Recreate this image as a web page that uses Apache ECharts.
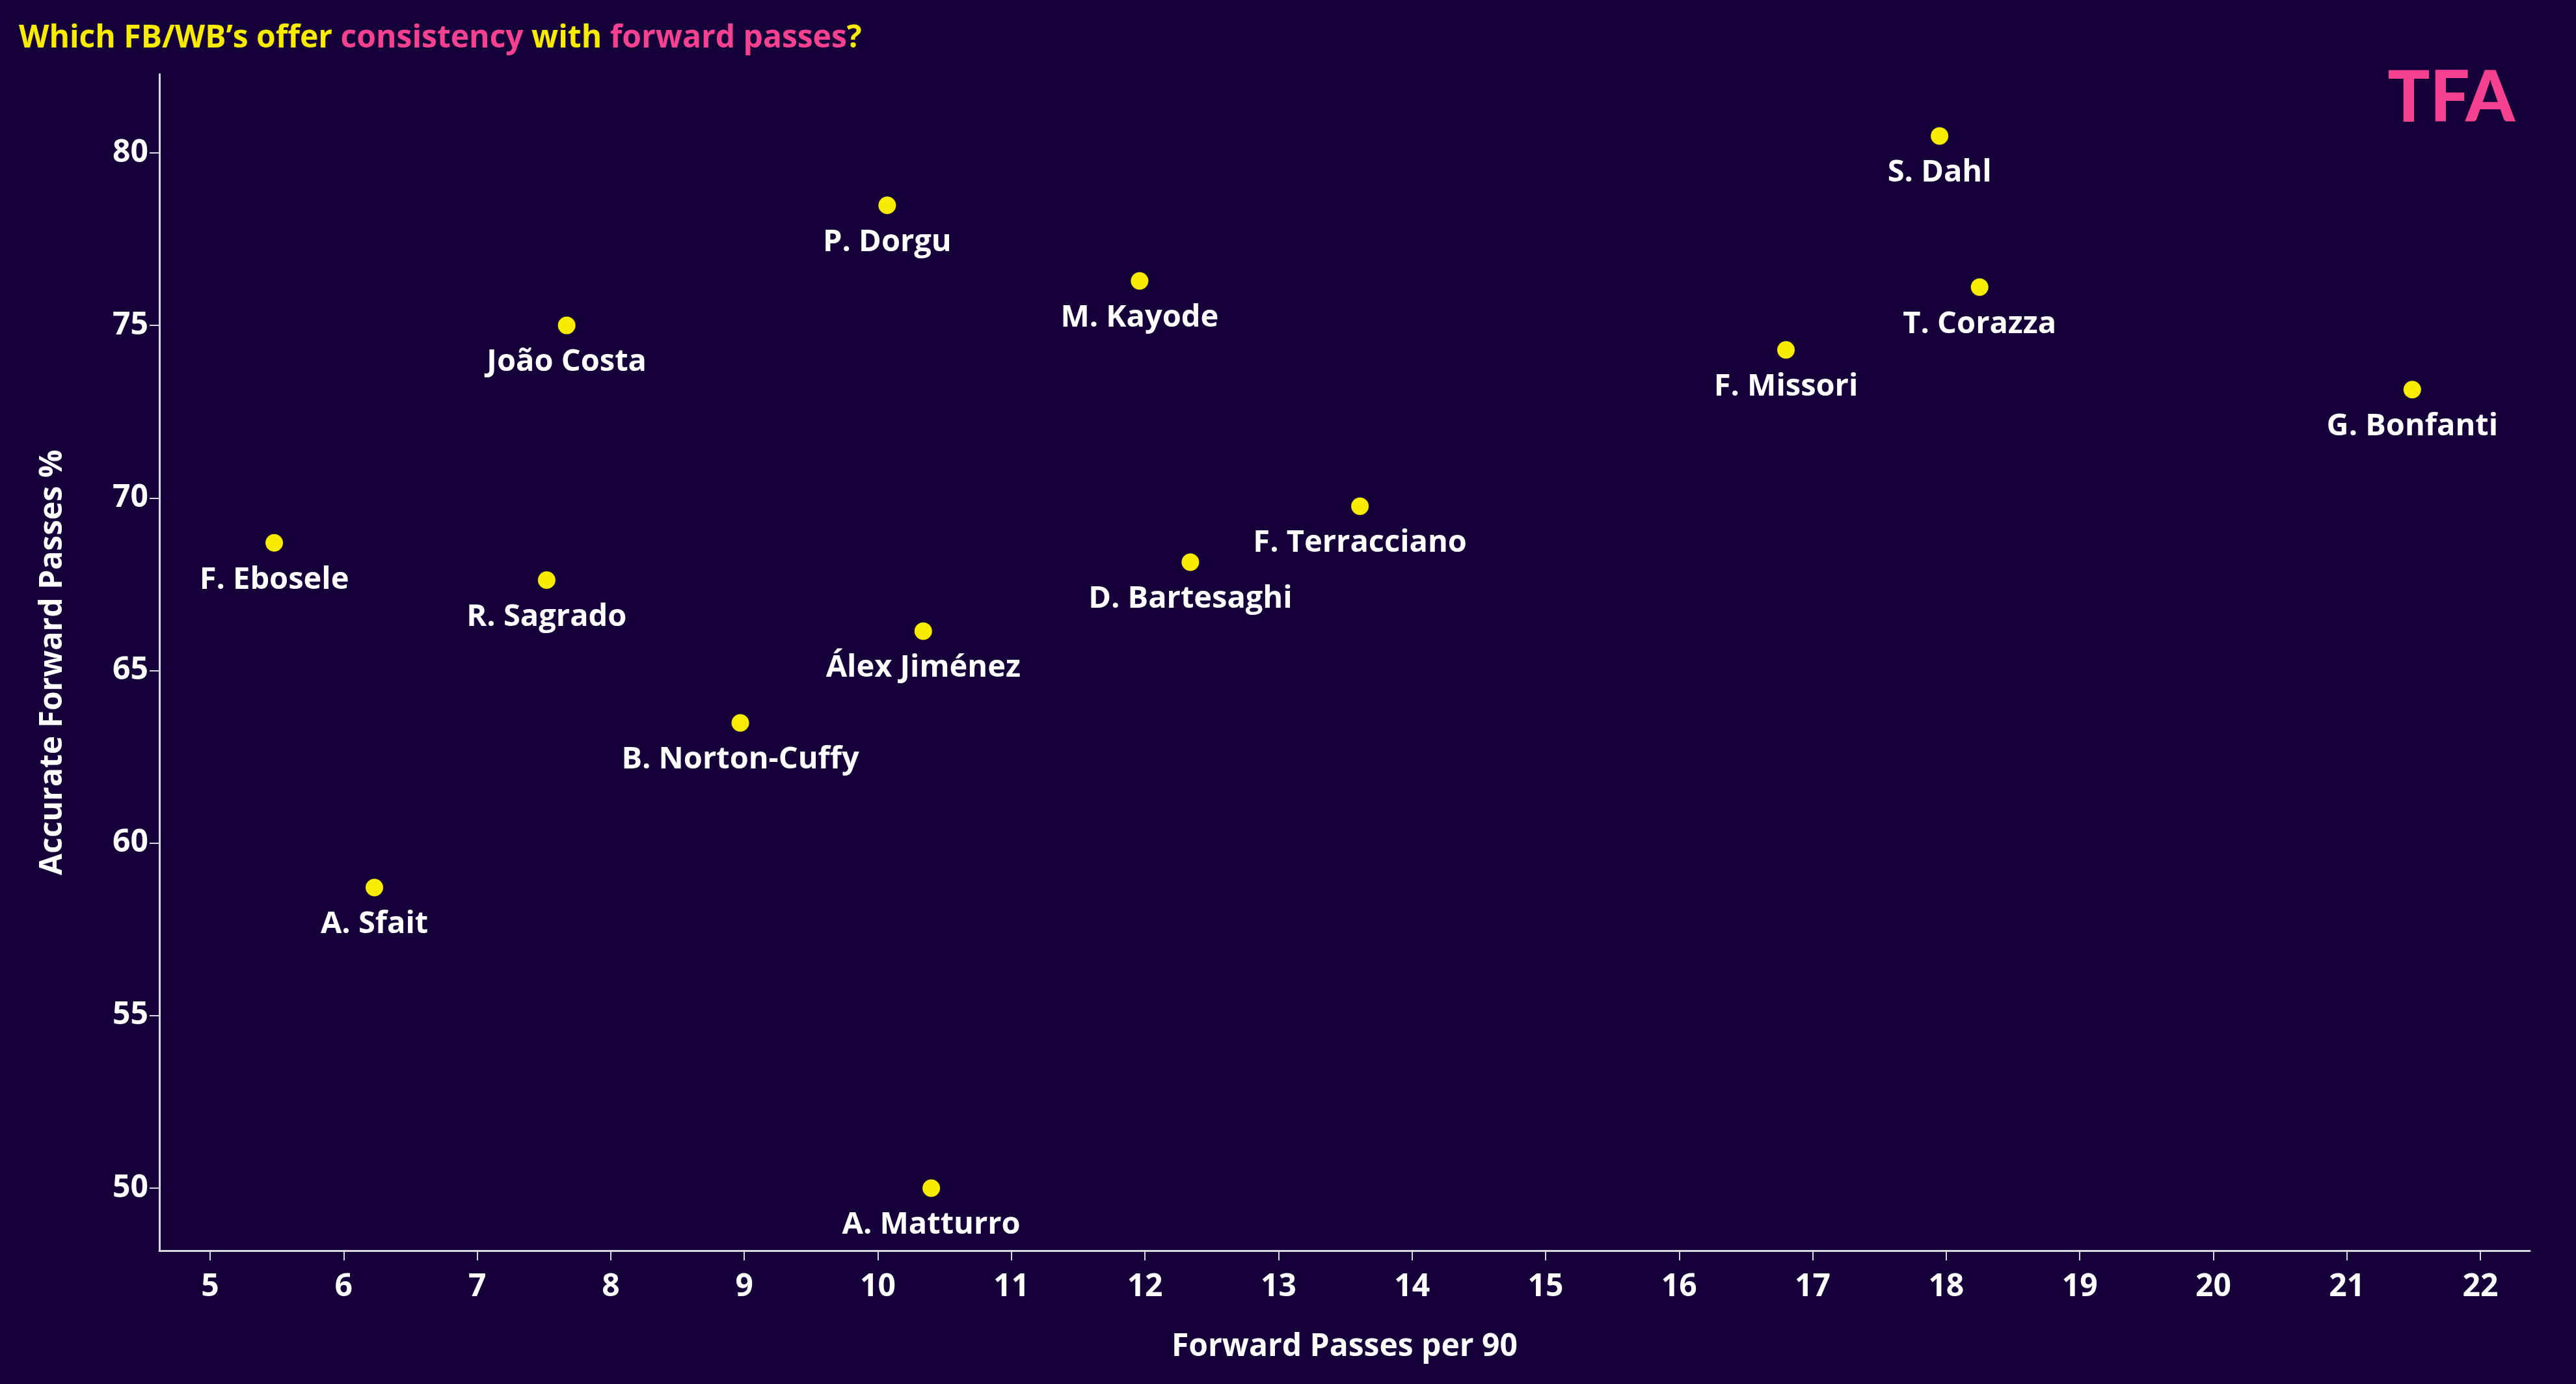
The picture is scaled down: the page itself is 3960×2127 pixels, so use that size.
<!DOCTYPE html>
<html>
<head>
<meta charset="utf-8">
<title>Which FB/WB’s offer consistency with forward passes?</title>
<script src="https://cdn.jsdelivr.net/npm/echarts@6.0.0/dist/echarts.min.js"></script>
<style>
    html, body { margin: 0; padding: 0; background: #16003a; }
    #main { width: 3960px; height: 2127px; }
</style>
</head>
<body>
<div id="main"></div>
<script>
// 球员
var players = ['S. Dahl', 'T. Corazza', 'F. Missori', 'G. Bonfanti', 'P. Dorgu', 'M. Kayode',
    'João Costa', 'F. Terracciano', 'D. Bartesaghi', 'F. Ebosele', 'R. Sagrado', 'Álex Jiménez',
    'B. Norton-Cuffy', 'A. Sfait', 'A. Matturro']
// 每90分钟向前传球
var fwdPasses90 = [17.95, 18.25, 16.80, 21.49, 10.07, 11.96, 7.67, 13.61, 12.34, 5.48, 7.52, 10.34, 8.97, 6.23, 10.40]
// 向前传球成功率 %
var fwdAccuracy = [80.49, 76.11, 74.29, 73.14, 78.48, 76.29, 75.0, 69.76, 68.14, 68.70, 67.62, 66.14, 63.48, 58.71, 50.0]
// 刻度
var xTicks = [5, 6, 7, 8, 9, 10, 11, 12, 13, 14, 15, 16, 17, 18, 19, 20, 21, 22]
var yTicks = [50, 55, 60, 65, 70, 75, 80]

var FONT = 'Open Sans'
var YELLOW = '#f7ec00'
var PINK = '#f5418f'
var AXIS = '#d8d8e0'

var main = document.getElementById('main')
var myChart = echarts.init(main)

var points = players.map(function (name, i) {
    return { name: name, value: [fwdPasses90[i], fwdAccuracy[i]] }
})

var option = {
    backgroundColor: '#16003a',
    animation: false,
    textStyle: { fontFamily: FONT },
    title: {
        left: 24,
        top: 30,
        text: '{y|Which FB/WB’s offer }{p|consistency}{y| with }{p|forward passes}{y|?}',
        textStyle: {
            rich: {
                y: { color: YELLOW, fontSize: 48, fontWeight: 'bold', fontFamily: FONT },
                p: { color: PINK, fontSize: 48, fontWeight: 'bold', fontFamily: FONT }
            }
        }
    },
    // TFA 标志
    graphic: [{
        type: 'text',
        right: 94,
        top: 98,
        style: {
            text: 'TFA',
            fill: PINK,
            font: '900 108px Lato'
        }
    }],
    grid: {
        left: 245,
        right: 71,
        top: 114,
        bottom: 205,
        containLabel: false
    },
    xAxis: {
        type: 'value',
        min: 4.62,
        max: 22.37,
        name: 'Forward Passes per 90',
        nameLocation: 'middle',
        nameGap: 124,
        nameTextStyle: { color: '#ffffff', fontSize: 48, fontWeight: 'bold', fontFamily: FONT },
        axisLine: { show: true, lineStyle: { color: AXIS, width: 3 } },
        axisTick: { show: true, length: 15, customValues: xTicks, lineStyle: { color: AXIS, width: 2 } },
        axisLabel: { color: '#ffffff', fontSize: 48, fontWeight: 'bold', margin: 32, customValues: xTicks },
        splitLine: { show: false }
    },
    yAxis: {
        type: 'value',
        min: 48.19,
        max: 82.28,
        name: 'Accurate Forward Passes %',
        nameLocation: 'middle',
        nameGap: 140,
        nameTextStyle: { color: '#ffffff', fontSize: 48, fontWeight: 'bold', fontFamily: FONT },
        axisLine: { show: true, lineStyle: { color: AXIS, width: 3 } },
        axisTick: { show: true, length: 15, customValues: yTicks, lineStyle: { color: AXIS, width: 2 } },
        axisLabel: { color: '#ffffff', fontSize: 48, fontWeight: 'bold', margin: 17, customValues: yTicks },
        splitLine: { show: false }
    },
    series: [{
        type: 'scatter',
        symbol: 'circle',
        symbolSize: 27,
        itemStyle: { color: YELLOW, opacity: 1 },
        label: {
            show: true,
            position: 'bottom',
            distance: 20,
            formatter: '{b}',
            color: '#ffffff',
            fontSize: 47,
            fontWeight: 'bold',
            fontFamily: FONT
        },
        data: points
    }]
}
myChart.setOption(option)
</script>
</body>
</html>
